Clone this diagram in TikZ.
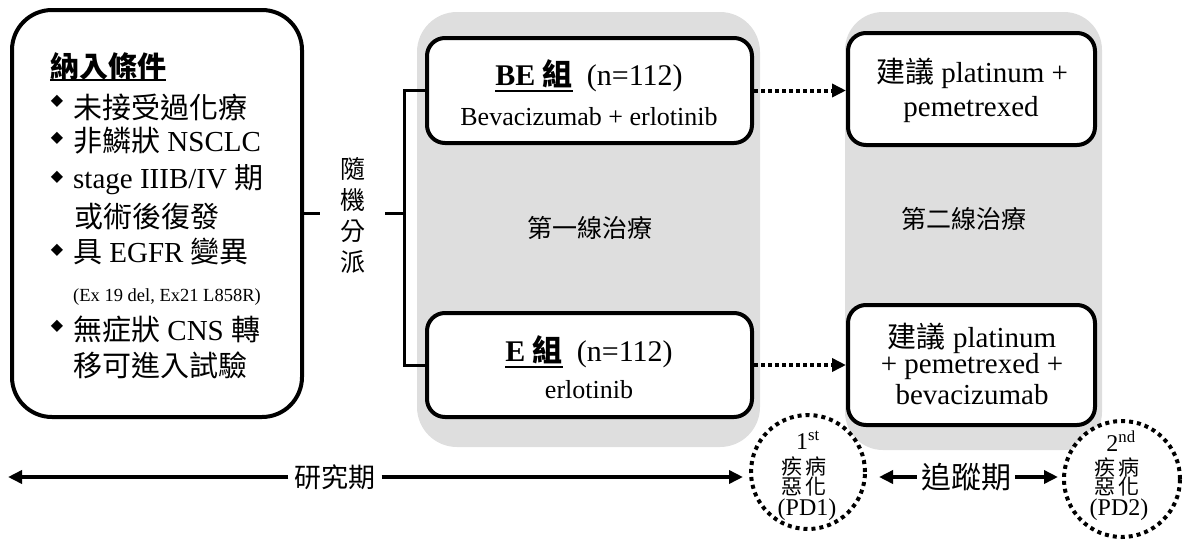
\documentclass[tikz,border=0pt]{standalone}
\usepackage{fontspec}
\setmainfont{Liberation Serif}
\newfontfamily\cjk{Noto Sans CJK TC}
\newfontfamily\djv{DejaVu Sans}
\usetikzlibrary{arrows.meta}
\definecolor{panelgray}{HTML}{DEDEDE}
\newcommand\fsz[1]{\fontsize{#1}{#1}\selectfont}
\newcommand\zh[1]{{\cjk #1}}
\newcommand\myul[2]{\setbox0\hbox{#2}\rlap{\rule[-#1]{\wd0}{2.2pt}}\box0}
\newcommand\dia{{\djv\fsz{16}◆}}
\begin{document}
\begin{tikzpicture}[x=1pt,y=-1pt,
  box/.style={draw, line width=4pt, rounded corners=18pt, fill=white, inner sep=0},
  conn/.style={line width=3pt},
  dotarr/.style={line width=4pt, dash pattern=on 4pt off 3pt, -{Triangle[length=14pt,width=13pt]}},
  tl/.style={line width=4pt},
  tip/.style={-{Triangle[length=14pt,width=13pt]}},
  pd/.style={circle, draw, fill=white, line width=4pt, dash pattern=on 4pt off 4pt, minimum size=114pt, inner sep=0},
  txt/.style={inner sep=0},
  lft/.style={inner sep=0, anchor=base west, font=\fsz{29}},
  bul/.style={inner sep=0}
]
\useasboundingbox (0,0) rectangle (1187,539);

% gray panels
\fill[panelgray, rounded corners=40pt] (417,12) rectangle (760,447);
\fill[panelgray, rounded corners=38pt] (845,12) rectangle (1102,450);

% inclusion box
\node[box, rounded corners=40pt, minimum width=290pt, minimum height=407pt] (incl) at (157,213.5) {};
\node[lft] (ttl) at (50,77) {\zh{\bfseries\myul{4pt}{納入條件}}};
\node[bul] (b1) at (57,101) {\dia};
\node[lft] (l1) at (73,118) {\zh{未接受過化療}};
\node[bul] (b2) at (57,138) {\dia};
\node[lft] (l2) at (73,151) {\zh{非鱗狀} NSCLC};
\node[bul] (b3) at (57,177) {\dia};
\node[lft] (l3) at (73,188) {stage IIIB/IV \zh{期}};
\node[lft] (l4) at (74,227) {\zh{或術後復發}};
\node[bul] (b5) at (57,250) {\dia};
\node[lft] (l5) at (73,262) {\zh{具} EGFR \zh{變異}};
\node[lft, font=\fsz{18.5}] (l6) at (73,301) {(Ex 19 del, Ex21 L858R)};
\node[bul] (b7) at (57,326) {\dia};
\node[lft] (l7) at (73,340) {\zh{無症狀} CNS \zh{轉}};
\node[lft] (l8) at (73,376) {\zh{移可進入試驗}};

% randomisation
\node[txt, minimum width=65pt, align=center, font=\cjk\fontsize{25}{31}\selectfont] (rnd) at (352.5,216) {隨\\機\\分\\派};
\coordinate (sp) at (404,213.5);

% first-line boxes
\node[box, minimum width=325pt, minimum height=105pt] (be) at (589.5,90.5) {};
\node[txt, font=\fsz{30}] (be1) at (589,76) {\myul{6pt}{\textbf{BE} \zh{\bfseries 組}}\hspace{14pt}(n=112)};
\node[txt, font=\fsz{26}] (be2) at (589,117) {Bevacizumab + erlotinib};
\node[box, minimum width=325pt, minimum height=104pt] (eg) at (589.5,365) {};
\node[txt, font=\fsz{30}] (eg1) at (589,352) {\myul{6pt}{\textbf{E} \zh{\bfseries 組}}\hspace{14pt}(n=112)};
\node[txt, font=\fsz{26}] (eg2) at (589,390) {erlotinib};
\node[txt, font=\cjk\fsz{25}] (p1) at (590,228) {第一線治療};

% second-line boxes
\node[box, minimum width=247pt, minimum height=112pt] (r1) at (971.5,89) {};
\node[txt, font=\fsz{29}] (r1a) at (972,73) {\zh{建議} platinum +};
\node[txt, font=\fsz{29}] (r1b) at (971,110) {pemetrexed};
\node[box, minimum width=247pt, minimum height=120pt] (r2) at (971.5,365) {};
\node[txt, font=\fsz{29}] (r2a) at (972,338) {\zh{建議} platinum};
\node[txt, font=\fsz{29}] (r2b) at (972,367) {+ pemetrexed +};
\node[txt, font=\fsz{29}] (r2c) at (972,395) {bevacizumab};
\node[txt, font=\cjk\fsz{25}] (p2) at (964,219) {第二線治療};

% connectors
\draw[conn] (incl.east) -- (incl.east -| rnd.west);
\draw[conn] (sp -| rnd.east) -- (sp);
\draw[conn] (be.west) -| (sp) |- (eg.west);
\draw[dotarr] (be.east) -- (be.east -| r1.west);
\draw[dotarr] (eg.east) -- (eg.east -| r2.west);

% progression circles
\node[pd] (pd1) at (808,472) {};
\node[txt, font=\fsz{24}] (pd1a) at (808,440) {1\textsuperscript{st}};
\node[txt, font=\cjk\fsz{21}] (pd1b) at (804,466) {疾\hspace{3pt}病};
\node[txt, font=\cjk\fsz{21}] (pd1c) at (804,487) {惡\hspace{3pt}化};
\node[txt, font=\fsz{24}] (pd1d) at (807,510) {(PD1)};
\node[pd, minimum size=116pt] (pd2) at (1122,479) {};
\node[txt, font=\fsz{24}] (pd2a) at (1121,441) {2\textsuperscript{nd}};
\node[txt, font=\cjk\fsz{21}] (pd2b) at (1117,467) {疾\hspace{3pt}病};
\node[txt, font=\cjk\fsz{21}] (pd2c) at (1117,487) {惡\hspace{3pt}化};
\node[txt, font=\fsz{24}] (pd2d) at (1119,510) {(PD2)};

% timeline
\node[txt, inner xsep=6pt, font=\cjk\fsz{27}] (study) at (335,477) {研究期};
\coordinate (lend) at (8,477);
\draw[tl, tip] (study.west) -- (lend);
\draw[tl, tip, shorten >=6pt] (study.east) -- (study.east -| pd1.west);
\node[txt, inner xsep=4pt, font=\cjk\fsz{30}] (follow) at (966,477) {追蹤期};
\draw[tl, tip, shorten >=12pt] (follow.west) -- (follow.west -| pd1.east);
\draw[tl, tip, shorten >=4pt] (follow.east) -- (follow.east -| pd2.west);
\end{tikzpicture}
\end{document}
